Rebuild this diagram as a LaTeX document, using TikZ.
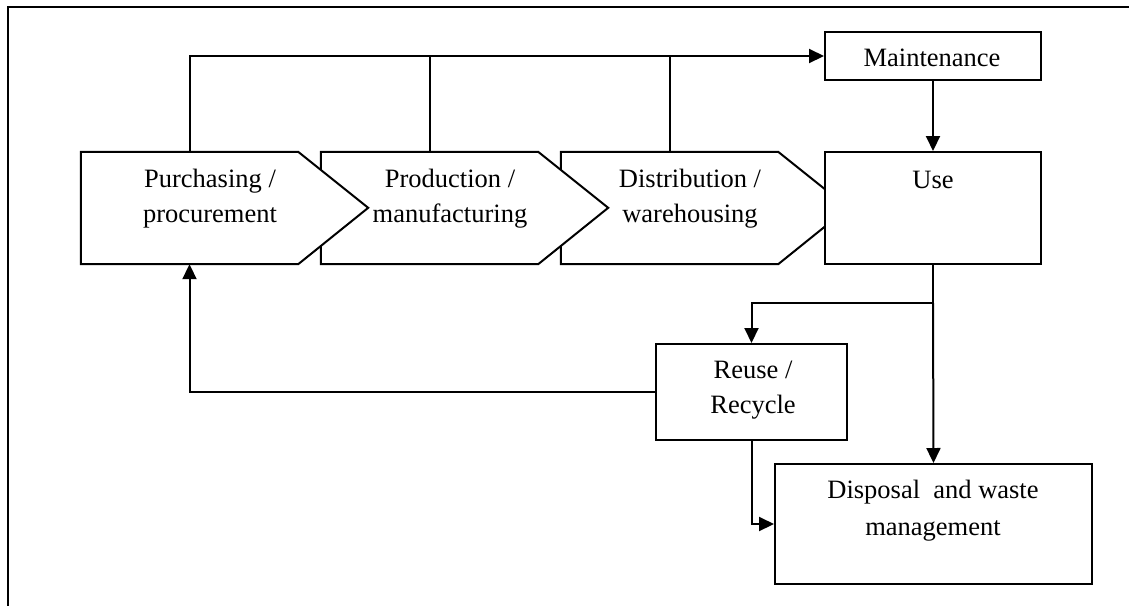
\documentclass[tikz,border=0pt]{standalone}
\usepackage{fontspec}
\setmainfont{Liberation Serif}
\usetikzlibrary{arrows.meta}
\tikzset{
  line/.style={line width=2pt, line join=miter},
  arr/.style={line, -{Triangle[length=15pt,width=14pt]}},
  box/.style={line, draw, fill=white, inner sep=0pt},
  stage/.style={inner sep=0pt, minimum width=217pt, minimum height=112pt},
  txt/.style={anchor=base, align=center, inner sep=0pt,
    font=\fontsize{26.5}{35}\selectfont},
}
\begin{document}
\begin{tikzpicture}[x=1pt, y=-1pt]
\useasboundingbox (0,0) rectangle (1129,606);
% frame
\draw[line] (1129,7) -- (8,7) -- (8,606);

% supply-chain stages (arrow-shaped), drawn back to front
\node[stage] (dis) at (669.5,208) {};
\node[stage] (pro) at (429.5,208) {};
\node[stage] (pur) at (189.5,208) {};
\foreach \s in {dis,pro,pur}{
  \draw[line, fill=white] (\s.north west) -- (\s.north east) -- ++(70,56)
    -- (\s.south east) -- (\s.south west) -- cycle;
}
% multi-line labels sit on the baseline of their last line
\node[txt] (pur-t) at (210,222) {Purchasing /\\procurement};
\node[txt] (pro-t) at (450,222) {Production /\\manufacturing};
\node[txt] (dis-t) at (690,222) {Distribution /\\warehousing};

% boxes
\node[box, minimum width=216pt, minimum height=112pt] (use) at (933,208) {};
\node[txt] (use-t) at (933,188) {Use};
\node[box, minimum width=216pt, minimum height=48pt] (mai) at (933,56) {};
\node[txt] (mai-t) at (932,66) {Maintenance};
\node[box, minimum width=191pt, minimum height=96pt] (reu) at (751.5,392) {};
\node[txt] (reu-t) at (753,413) {Reuse /\\Recycle};
\node[box, minimum width=317pt, minimum height=120pt] (dsp) at (933.5,524) {};
\node[txt, font=\fontsize{26.5}{37}\selectfont] (dsp-t) at (933,535) {Disposal\ \ and waste\\management};

% connectors
\draw[arr] (pur.north) |- (mai.west);
\draw[line] (pro.north) -- (pro.north |- mai.west);
\draw[line] (dis.north) -- (dis.north |- mai.west);
\draw[arr] (mai.south) -- (use.north);
\coordinate (split) at (933,303);
\draw[line] (use.south) -- (split);
\draw[arr] (split) -| (reu.north);
\draw[arr] (split) -- (dsp.north);
\draw[arr] (reu.south) |- (dsp.west);
\draw[arr] (reu.west) -| (pur.south);
\end{tikzpicture}
\end{document}
